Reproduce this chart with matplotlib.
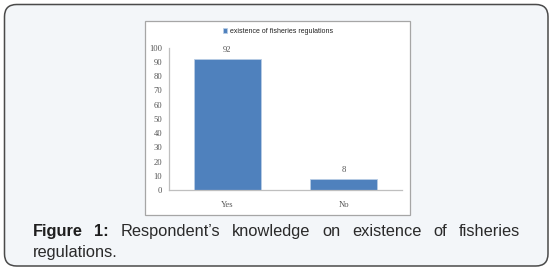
import matplotlib
matplotlib.use("Agg")
import matplotlib.pyplot as plt
from matplotlib.patches import FancyBboxPatch, Rectangle

# data
categories = ["Yes", "No"]
values = [92, 8]
series_name = "existence of fisheries regulations"
yticks = list(range(0, 101, 10))
caption_bold = ["Figure", "1:"]
caption_words = ["Respondent\u2019s", "knowledge", "on", "existence", "of", "fisheries"]
caption_line2 = "regulations."

W, H = 552, 273
fig = plt.figure(figsize=(W / 100, H / 100), dpi=100)
fig.patch.set_facecolor("white")

def fx(px):
    return px / W

def fy(py):
    return 1 - py / H

# outer rounded panel
panel = FancyBboxPatch((fx(4.5), fy(266)), fx(543.5), 261.5 / H,
                       boxstyle="round,pad=0,rounding_size=0.022",
                       transform=fig.transFigure, facecolor="#f3f6f9",
                       edgecolor="#4a4a4a", linewidth=1.1, mutation_aspect=W / H,
                       zorder=-2)
fig.patches.append(panel)

# white chart box
box = Rectangle((fx(144.5), fy(214.7)), fx(410 - 144.5), (214.7 - 20.7) / H,
                transform=fig.transFigure, facecolor="white",
                edgecolor="#a6a6a6", linewidth=0.9, zorder=-1)
fig.patches.append(box)

ax = fig.add_axes([fx(169.3), fy(190), fx(232.4), 142.3 / H])
ax.set_zorder(2)
ax.set_facecolor("none")
x = range(len(categories))
bars = ax.bar(x, values, width=0.57, color="#4f81bd", edgecolor="#b9cde5",
              linewidth=0.6, label=series_name)
ax.set_xlim(-0.5, len(categories) - 0.5)
ax.set_ylim(0, 100)
ax.set_yticks(yticks)
ax.set_xticks(list(x))
ax.set_xticklabels(categories)
ax.tick_params(length=0, labelsize=6.2, colors="#555555", pad=5)
ax.tick_params(axis="x", pad=8)
for lab in ax.get_xticklabels() + ax.get_yticklabels():
    lab.set_family("Liberation Serif")
for s in ["top", "right"]:
    ax.spines[s].set_visible(False)
for s in ["left", "bottom"]:
    ax.spines[s].set_color("#bfbfbf")
    ax.spines[s].set_linewidth(0.9)

for b, v in zip(bars, values):
    ax.annotate(str(v), (b.get_x() + b.get_width() / 2, v), xytext=(0, 3.5),
                textcoords="offset points", ha="center", va="bottom",
                fontsize=6.2, color="#555555", family="Liberation Serif")

fig.legend(handles=[bars], labels=[series_name], loc="center",
           bbox_to_anchor=(fx(278), fy(31.5)), frameon=False,
           prop={"family": "Liberation Sans", "size": 5.0},
           handlelength=0.6, handleheight=0.6, handletextpad=0.3,
           labelcolor="#222222")

# justified caption
fs = 11.8
left, right = 32.7, 520
fig.canvas.draw()
r = fig.canvas.get_renderer()
texts = []
for w in caption_bold:
    texts.append(fig.text(0, fy(235.7), w, fontsize=fs, fontweight="bold",
                          family="Liberation Sans", color="#1e1e1e", va="baseline"))
for w in caption_words:
    texts.append(fig.text(0, fy(235.7), w, fontsize=fs,
                          family="Liberation Sans", color="#2a2a2a", va="baseline"))
widths = [t.get_window_extent(r).width for t in texts]
gap = (right - left - sum(widths)) / (len(texts) - 1)
pos = left
for t, wd in zip(texts, widths):
    t.set_x(fx(pos))
    pos += wd + gap
fig.text(fx(left), fy(256.7), caption_line2, fontsize=fs,
         family="Liberation Sans", color="#2a2a2a", va="baseline")

fig.savefig("out.png", dpi=100)
